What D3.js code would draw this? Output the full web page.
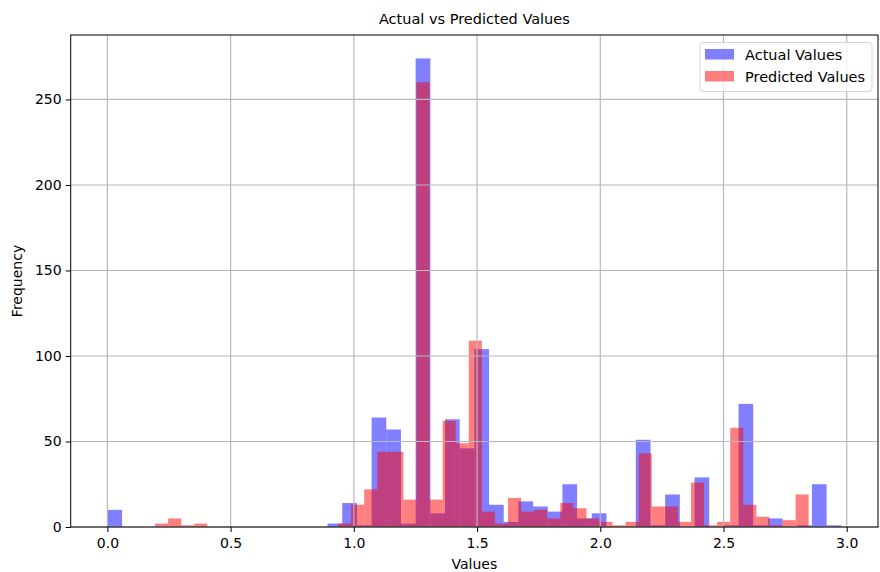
<!DOCTYPE html>
<html>
<head>
<meta charset="utf-8">
<script src="https://cdn.jsdelivr.net/npm/d3@7"></script>
<style>
    body { margin: 0; background: #fff; }
    svg { font-family: "DejaVu Sans", sans-serif; }
</style>
</head>
<body>
<svg id="chart" width="880" height="572"></svg>
<script>
"use strict";

// Histogram counts, 50 equal bins per series.
const actualRange = [0.0, 2.978];
const actualCounts = [
    10, 0, 0, 0, 0, 0, 0, 0, 0, 0,
    0, 0, 0, 0, 0, 2, 14, 1, 64, 57,
    2, 274, 8, 63, 46, 104, 13, 3, 15, 12,
    9, 25, 5, 8, 0, 0, 51, 1, 19, 0,
    29, 0, 1, 72, 1, 5, 0, 1, 25, 1
];

const predictedRange = [0.1934, 2.8455];
const predictedCounts = [
    2, 5, 1, 2, 0, 0, 0, 0, 0, 0,
    0, 0, 0, 0, 2, 13, 22, 44, 44, 16,
    260, 16, 62, 49, 109, 9, 2, 17, 9, 10,
    5, 14, 11, 5, 3, 1, 3, 43, 12, 12,
    3, 26, 1, 3, 58, 13, 6, 1, 4, 19
];

const xTicks = [0.0, 0.5, 1.0, 1.5, 2.0, 2.5, 3.0];
const yTicks = [0, 50, 100, 150, 200, 250];

const seriesNames = ["Actual Values", "Predicted Values"];
const seriesColors = ["#0000ff", "#ff0000"];

const WIDTH = 880;
const HEIGHT = 572;
const MARGIN = {top: 35, right: 2, bottom: 45, left: 70.7};
const BAR_ALPHA = 0.5;
const TICK_LENGTH = 5;
const FONT_SIZE = 14;

const svg = d3.select("#chart");
const plotWidth = WIDTH - MARGIN.left - MARGIN.right;
const plotHeight = HEIGHT - MARGIN.top - MARGIN.bottom;

/**
 * Turns a range and a list of counts into bin objects with x0, x1 and count.
 */
function makeBins(range, counts) {
    let step = (range[1] - range[0]) / counts.length;
    return counts.map(function (c, i) {
        return {x0: range[0] + i * step, x1: range[0] + (i + 1) * step, count: c};
    });
}

let actualBins = makeBins(actualRange, actualCounts);
let predictedBins = makeBins(predictedRange, predictedCounts);

// Matplotlib style 5% margins on x, 5% headroom on y.
let dataMin = Math.min(actualRange[0], predictedRange[0]);
let dataMax = Math.max(actualRange[1], predictedRange[1]);
let pad = (dataMax - dataMin) * 0.05;
let yMax = d3.max(actualCounts.concat(predictedCounts)) * 1.05;

let x = d3.scaleLinear()
    .domain([dataMin - pad, dataMax + pad])
    .range([0, plotWidth]);
let y = d3.scaleLinear()
    .domain([0, yMax])
    .range([plotHeight, 0]);

let plot = svg.append("g")
    .attr("transform", "translate(" + MARGIN.left + "," + MARGIN.top + ")");

// Bars, actual first so predicted sits on top.
[actualBins, predictedBins].forEach(function (bins, s) {
    plot.append("g")
        .attr("class", "series")
        .selectAll("rect")
        .data(bins.filter(function (d) { return d.count > 0; }))
        .enter()
        .append("rect")
        .attr("x", function (d) { return x(d.x0); })
        .attr("y", function (d) { return y(d.count); })
        .attr("width", function (d) { return x(d.x1) - x(d.x0); })
        .attr("height", function (d) { return y(0) - y(d.count); })
        .attr("fill", seriesColors[s])
        .attr("fill-opacity", BAR_ALPHA);
});

// Grid lines drawn above the bars, like the default mpl zorder.
let grid = plot.append("g").attr("class", "grid");
grid.selectAll(".gx")
    .data(xTicks)
    .enter()
    .append("line")
    .attr("x1", function (d) { return x(d); })
    .attr("x2", function (d) { return x(d); })
    .attr("y1", 0)
    .attr("y2", plotHeight);
grid.selectAll(".gy")
    .data(yTicks)
    .enter()
    .append("line")
    .attr("x1", 0)
    .attr("x2", plotWidth)
    .attr("y1", function (d) { return y(d); })
    .attr("y2", function (d) { return y(d); });
grid.selectAll("line")
    .attr("stroke", "#b8b8b8")
    .attr("stroke-width", 1.2);

// Axes.
let xAxis = plot.append("g")
    .attr("transform", "translate(0," + plotHeight + ")")
    .call(d3.axisBottom(x).tickValues(xTicks).tickFormat(d3.format(".1f"))
        .tickSize(TICK_LENGTH).tickPadding(6));
let yAxis = plot.append("g")
    .call(d3.axisLeft(y).tickValues(yTicks).tickSize(TICK_LENGTH).tickPadding(4));

[xAxis, yAxis].forEach(function (a) {
    a.select(".domain").remove();
    a.selectAll(".tick line").attr("stroke", "#000").attr("stroke-width", 1);
    a.selectAll(".tick text")
        .attr("fill", "#000")
        .style("font-size", FONT_SIZE + "px")
        .style("font-family", "DejaVu Sans");
});

// Frame.
plot.append("rect")
    .attr("width", plotWidth)
    .attr("height", plotHeight)
    .attr("fill", "none")
    .attr("stroke", "#000")
    .attr("stroke-width", 1);

// Title and axis labels.
svg.append("text")
    .attr("x", MARGIN.left + plotWidth / 2)
    .attr("y", 24)
    .attr("text-anchor", "middle")
    .style("font-size", "14.5px")
    .text("Actual vs Predicted Values");
svg.append("text")
    .attr("x", MARGIN.left + plotWidth / 2)
    .attr("y", 569)
    .attr("text-anchor", "middle")
    .style("font-size", FONT_SIZE + "px")
    .text("Values");
svg.append("text")
    .attr("transform", "translate(22," + (MARGIN.top + plotHeight / 2) + ") rotate(-90)")
    .attr("text-anchor", "middle")
    .style("font-size", FONT_SIZE + "px")
    .text("Frequency");

// Legend.
let legend = svg.append("g")
    .attr("transform", "translate(700,42.5)");
legend.append("rect")
    .attr("width", 172)
    .attr("height", 49)
    .attr("rx", 3)
    .attr("fill", "#fff")
    .attr("fill-opacity", 0.8)
    .attr("stroke", "#d6d6d6");
seriesNames.forEach(function (name, i) {
    let row = legend.append("g")
        .attr("transform", "translate(5," + (6.5 + i * 22) + ")");
    row.append("rect")
        .attr("width", 29)
        .attr("height", 10.5)
        .attr("fill", seriesColors[i])
        .attr("fill-opacity", BAR_ALPHA);
    row.append("text")
        .attr("x", 40)
        .attr("y", 11)
        .style("font-size", "14.5px")
        .text(name);
});
</script>
</body>
</html>
